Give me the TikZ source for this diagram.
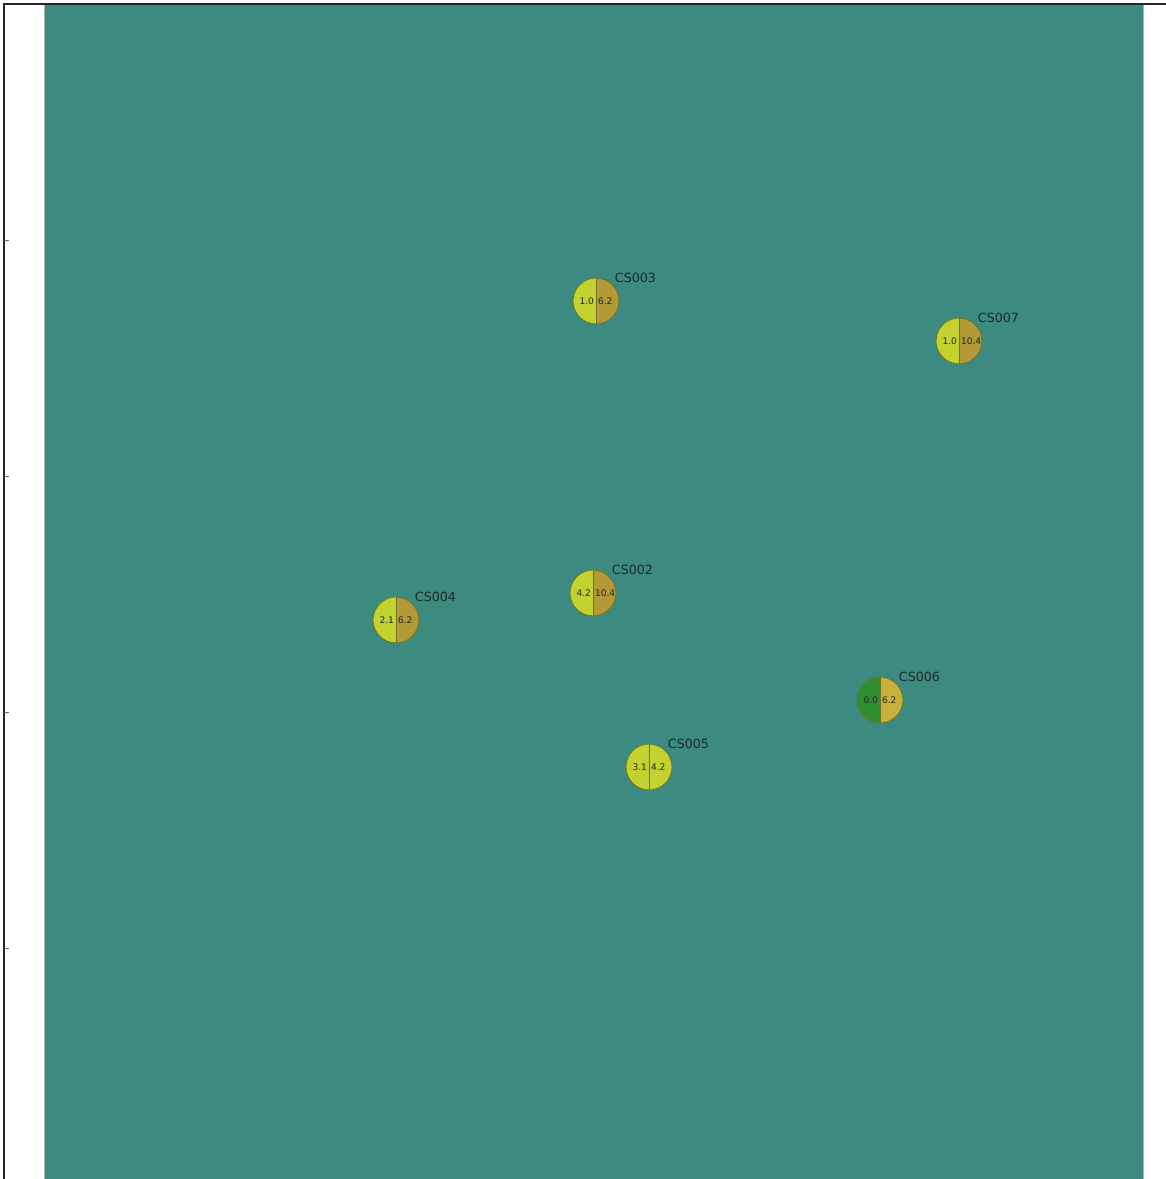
\documentclass[tikz,border=0pt]{standalone}
\usepackage{fontspec}
\setmainfont{DejaVu Sans}
\definecolor{teal}{HTML}{3D8B80}
\definecolor{ygreen}{HTML}{C3D22F}
\definecolor{gold}{HTML}{B39A36}
\definecolor{goldl}{HTML}{C8B03B}
\definecolor{dgreen}{HTML}{2F8E30}
\definecolor{edge}{HTML}{6A7424}
\definecolor{ink}{HTML}{1C2A28}
\tikzset{
  px/.style={x=0.75pt,y=-0.75pt},
  lbl/.style={font=\fontsize{9.5}{10}\selectfont, text=ink, inner sep=0pt},
  num/.style={font=\fontsize{6.8}{7}\selectfont, text=ink, inner sep=0pt},
  stn/.style={circle, minimum size=34.5pt, inner sep=0pt},
}
% #1 name, #2 x, #3 y, #4 left colour, #5 right colour, #6 left value, #7 right value, #8 label
\newcommand{\station}[8]{%
  \node[stn] (#1) at (#2,#3) {};
  \fill[#4] (#1.north) arc[start angle=270,end angle=90,radius=23] -- cycle;
  \fill[#5] (#1.south) arc[start angle=90,end angle=-90,radius=23] -- cycle;
  \draw[edge, line width=0.6pt] (#1.center) circle[radius=23];
  \draw[edge, line width=0.6pt] (#1.north) -- (#1.south);
  \node[num, anchor=east] (#1l) at ([xshift=-1.3pt]#1.center) {#6};
  \node[num, anchor=west] (#1r) at ([xshift=1.3pt]#1.center) {#7};
  \node[lbl, anchor=south west] (#1t) at ([xshift=14pt,yshift=13.5pt]#1.center) {#8};
}
\begin{document}
\begin{tikzpicture}[px]
\useasboundingbox (0,0) rectangle (1166,1179);
\fill[white] (0,0) rectangle (1166,1179);
\fill[teal] (44,5) rectangle (1143,1179);
\draw[gray!60, line width=0.6pt] (44,5) -- (44,1179);
\draw[gray!60, line width=0.6pt] (1143,5) -- (1143,1179);
\draw[black!85, line width=1.5pt] (4,1179) -- (4,4) -- (1166,4);
\foreach \ty in {240,476,712,948} \draw[black!60, line width=0.5pt] (4,\ty) -- (9,\ty);
\station{cs003}{596}{301}{ygreen}{gold}{1.0}{6.2}{CS003}
\station{cs007}{959}{341}{ygreen}{gold}{1.0}{10.4}{CS007}
\station{cs002}{593}{593}{ygreen}{gold}{4.2}{10.4}{CS002}
\station{cs004}{396}{620}{ygreen}{gold}{2.1}{6.2}{CS004}
\station{cs006}{880}{700}{dgreen}{goldl}{0.0}{6.2}{CS006}
\station{cs005}{649}{767}{ygreen}{ygreen}{3.1}{4.2}{CS005}
\end{tikzpicture}
\end{document}
